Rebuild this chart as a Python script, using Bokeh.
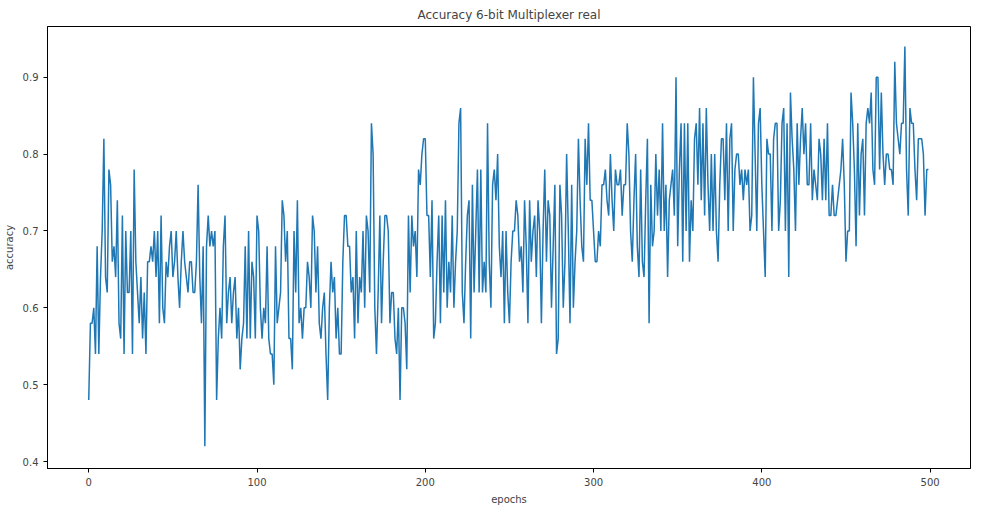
from bokeh.plotting import figure
from bokeh.embed import file_html
from bokeh.resources import INLINE
from bokeh.models import FixedTicker, Range1d

acc_text = """
0.48 0.58 0.58 0.60 0.54 0.68 0.54 0.64 0.70 0.82
0.64 0.62 0.78 0.76 0.66 0.68 0.64 0.74 0.58 0.56
0.72 0.54 0.70 0.62 0.62 0.70 0.54 0.78 0.66 0.62
0.58 0.64 0.56 0.62 0.54 0.66 0.66 0.68 0.66 0.70
0.64 0.70 0.58 0.72 0.60 0.58 0.66 0.64 0.68 0.70
0.64 0.66 0.70 0.64 0.60 0.66 0.70 0.66 0.64 0.62
0.66 0.66 0.62 0.62 0.66 0.76 0.64 0.58 0.68 0.42
0.68 0.72 0.68 0.70 0.68 0.70 0.48 0.56 0.60 0.56
0.68 0.72 0.58 0.62 0.64 0.58 0.62 0.64 0.56 0.60
0.52 0.56 0.58 0.68 0.56 0.70 0.56 0.66 0.64 0.56
0.72 0.70 0.60 0.56 0.60 0.58 0.68 0.56 0.54 0.54
0.50 0.68 0.58 0.60 0.62 0.74 0.72 0.66 0.70 0.56
0.56 0.52 0.70 0.62 0.74 0.58 0.60 0.56 0.60 0.60
0.66 0.64 0.60 0.72 0.70 0.62 0.68 0.58 0.56 0.60
0.62 0.54 0.48 0.60 0.66 0.62 0.64 0.56 0.60 0.54
0.54 0.66 0.72 0.72 0.68 0.68 0.62 0.64 0.56 0.70
0.58 0.64 0.62 0.70 0.60 0.72 0.70 0.62 0.84 0.80
0.60 0.54 0.62 0.72 0.58 0.66 0.72 0.72 0.70 0.58
0.62 0.62 0.56 0.54 0.60 0.48 0.60 0.60 0.58 0.52
0.72 0.62 0.72 0.68 0.70 0.64 0.78 0.76 0.80 0.82
0.82 0.72 0.72 0.64 0.74 0.56 0.58 0.66 0.72 0.58
0.72 0.62 0.74 0.60 0.66 0.62 0.72 0.60 0.66 0.70
0.84 0.86 0.62 0.58 0.66 0.72 0.74 0.56 0.76 0.62
0.70 0.78 0.62 0.78 0.62 0.66 0.62 0.84 0.66 0.60
0.76 0.78 0.74 0.80 0.68 0.64 0.70 0.58 0.70 0.62
0.58 0.66 0.70 0.70 0.74 0.72 0.66 0.68 0.62 0.74
0.68 0.58 0.74 0.66 0.70 0.72 0.64 0.74 0.70 0.58
0.70 0.78 0.66 0.74 0.72 0.60 0.68 0.76 0.54 0.56
0.76 0.72 0.60 0.66 0.80 0.70 0.58 0.76 0.60 0.66
0.70 0.82 0.74 0.68 0.66 0.82 0.76 0.84 0.74 0.74
0.70 0.66 0.66 0.70 0.68 0.76 0.76 0.78 0.74 0.72
0.80 0.74 0.70 0.78 0.76 0.76 0.78 0.72 0.76 0.76
0.84 0.80 0.70 0.66 0.74 0.80 0.68 0.64 0.78 0.66
0.64 0.74 0.82 0.58 0.76 0.68 0.70 0.80 0.72 0.78
0.70 0.84 0.70 0.76 0.64 0.74 0.76 0.78 0.72 0.90
0.68 0.78 0.84 0.66 0.84 0.70 0.84 0.66 0.74 0.70
0.82 0.84 0.76 0.86 0.74 0.84 0.72 0.86 0.76 0.70
0.80 0.70 0.80 0.70 0.66 0.76 0.82 0.82 0.74 0.84
0.70 0.82 0.84 0.70 0.78 0.80 0.80 0.76 0.78 0.74
0.78 0.76 0.78 0.70 0.72 0.90 0.80 0.70 0.84 0.86
0.76 0.70 0.64 0.82 0.80 0.80 0.70 0.82 0.84 0.84
0.70 0.74 0.84 0.86 0.70 0.84 0.64 0.88 0.82 0.78
0.70 0.84 0.76 0.82 0.86 0.80 0.84 0.76 0.76 0.84
0.74 0.78 0.76 0.74 0.82 0.80 0.74 0.82 0.74 0.84
0.72 0.72 0.76 0.72 0.72 0.74 0.76 0.78 0.82 0.76
0.66 0.70 0.70 0.88 0.84 0.78 0.68 0.84 0.72 0.80
0.82 0.72 0.84 0.86 0.84 0.88 0.78 0.76 0.90 0.90
0.78 0.88 0.80 0.76 0.80 0.80 0.78 0.78 0.76 0.92
0.84 0.82 0.80 0.84 0.84 0.94 0.78 0.72 0.86 0.84
0.84 0.78 0.74 0.82 0.82 0.82 0.80 0.72 0.78 0.78
"""
accuracy = [float(v) for v in acc_text.split()]
epochs = list(range(len(accuracy)))
x_ticks = [0, 100, 200, 300, 400, 500]
y_ticks = [0.4, 0.5, 0.6, 0.7, 0.8, 0.9]

p = figure(width=978, height=507, output_backend="svg", toolbar_location=None,
           title="Accuracy 6-bit Multiplexer real",
           x_range=Range1d(-24.5, 524), y_range=Range1d(0.391, 0.966))
p.line(epochs, accuracy, line_color="#1f77b4", line_width=1.5)

p.title.align = "center"
p.title.text_font = "DejaVu Sans"
p.title.text_font_size = "12px"
p.title.text_font_style = "normal"
p.xaxis.axis_label = "epochs"
p.yaxis.axis_label = "accuracy"
p.xaxis.ticker = FixedTicker(ticks=x_ticks)
p.yaxis.ticker = FixedTicker(ticks=y_ticks)
for ax in (p.xaxis, p.yaxis):
    ax.axis_label_text_font = "DejaVu Sans"
    ax.axis_label_text_font_size = "10px"
    ax.axis_label_text_font_style = "normal"
    ax.major_label_text_font = "DejaVu Sans"
    ax.major_label_text_font_size = "10px"
    ax.minor_tick_line_color = None
    ax.major_tick_out = 4
    ax.major_tick_in = 0
    ax.axis_line_color = "black"
p.xgrid.grid_line_color = None
p.ygrid.grid_line_color = None
p.outline_line_color = "black"
p.outline_line_alpha = 1
p.min_border_left = 40
p.min_border_right = 8

open("out.html", "w").write(file_html(p, INLINE))
